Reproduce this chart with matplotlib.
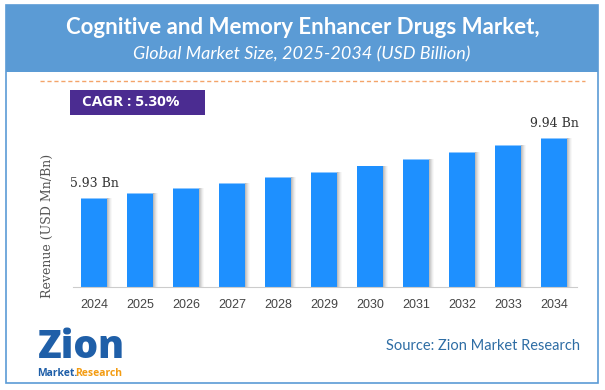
import matplotlib
matplotlib.use('Agg')
import matplotlib.pyplot as plt
from matplotlib.patches import Rectangle
import numpy as np

years = ['2024', '2025', '2026', '2027', '2028', '2029', '2030', '2031', '2032', '2033', '2034']
revenue = [5.93, 6.24, 6.57, 6.92, 7.29, 7.67, 8.08, 8.50, 8.95, 9.43, 9.94]
value_labels = {0: '5.93 Bn', 10: '9.94 Bn'}

title = 'Cognitive and Memory Enhancer Drugs Market,'
subtitle = 'Global Market Size, 2025-2034 (USD Billion)'
cagr_text = 'CAGR : 5.30%'
source_text = 'Source: Zion Market Research'

W, H = 605, 390


def fx(px):
    return px / W


def fy(py):
    return 1 - py / H


fig = plt.figure(figsize=(W / 100, H / 100), dpi=100)
fig.patch.set_facecolor('white')

# card border and header band
fig.patches.append(Rectangle((fx(6), fy(383)), fx(592), (383 - 5) / H, transform=fig.transFigure,
                             facecolor='white', edgecolor='#5B9BD5', linewidth=1.2, zorder=0))
fig.patches.append(Rectangle((fx(6), fy(72)), fx(592), (72 - 5) / H, transform=fig.transFigure,
                             facecolor='#5B9BD5', edgecolor='none', zorder=1))
fig.text(fx(303), fy(28), title, ha='center', va='center', color='white',
         fontsize=16, fontweight='bold', family='Lato')
fig.text(fx(302), fy(54), subtitle, ha='center', va='center', color='white',
         fontsize=13, style='italic', family='Lato')

# dashed separator
fig.lines.append(plt.Line2D([fx(40), fx(585)], [fy(81), fy(81)], transform=fig.transFigure,
                            color='#F4A46A', linewidth=1, linestyle=(0, (3, 2))))

# CAGR box
fig.patches.append(Rectangle((fx(70), fy(115)), fx(135), 25 / H, transform=fig.transFigure,
                             facecolor='#4B2C91', edgecolor='none', zorder=2))
fig.text(fx(82), fy(102.5), cagr_text, ha='left', va='center', color='white',
         fontsize=11, fontweight='bold', family='Open Sans', zorder=3)

# bar axes
left, right, top, base = 73, 577, 120, 287
ax = fig.add_axes([fx(left), fy(base), fx(right - left), (base - top) / H])
ax.set_zorder(5)
x = np.arange(len(years))
bw = 26 / 46
ax.set_xlim(-21 / 46, (right - 94) / 46)
ax.set_ylim(0, (base - top) / 15.03)

# soft shadow on the right of each bar
for i, a in enumerate([0.14, 0.12, 0.09, 0.06, 0.04]):
    ax.bar(x + 0.02 + i * 0.02, revenue, width=bw, color='#555555', alpha=a, zorder=1)
ax.bar(x, revenue, width=bw, color='#1E90FF', edgecolor='none', zorder=2)
ax.bar(x, [0.06] * len(x), bottom=np.array(revenue) - 0.06, width=bw, color='#8CC6FF', zorder=3)

for i, lab in value_labels.items():
    ax.text(x[i], revenue[i] + 0.5, lab, ha='center', va='bottom', fontsize=9,
            family='DejaVu Serif', color='#333333')

ax.set_xticks(x, years)
ax.tick_params(axis='x', length=0, pad=9, labelsize=9, labelcolor='#444444')
for lab in ax.get_xticklabels():
    lab.set_family('Liberation Sans')
ax.set_yticks([])
for s in ['top', 'right', 'left']:
    ax.spines[s].set_visible(False)
ax.spines['bottom'].set_color('#CCCCCC')
ax.patch.set_alpha(0)

fig.text(fx(47), fy(226), 'Revenue (USD Mn/Bn)', rotation=90, ha='center', va='center',
         fontsize=9, family='DejaVu Serif', color='#555555')

# logo
fig.text(fx(81), fy(348), 'Zion', ha='center', va='center', fontsize=28, fontweight='heavy',
         color='#1F5FA8', family='Open Sans')
fig.text(fx(37), fy(374), 'Market.', ha='left', va='center', fontsize=7.5, fontweight='bold',
         color='#1F5FA8', family='Open Sans')
fig.text(fx(75), fy(374), 'Research', ha='left', va='center', fontsize=7.5, fontweight='bold',
         color='#F39C12', family='Open Sans')

fig.text(fx(580), fy(346), source_text, ha='right', va='center', fontsize=10.5,
         color='#2E6DA4', family='Lato')

fig.savefig('out.png', dpi=100)
